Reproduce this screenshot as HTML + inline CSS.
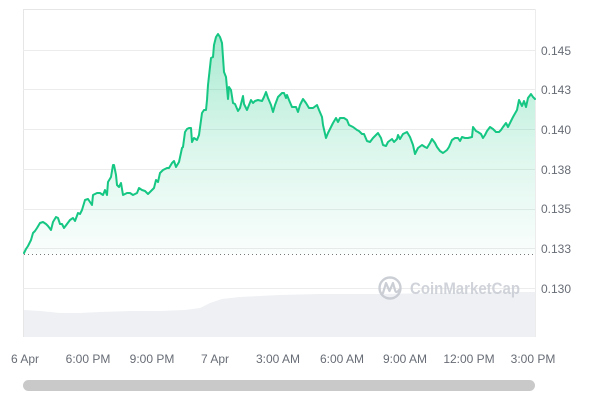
<!DOCTYPE html>
<html>
<head>
<meta charset="utf-8">
<style>
html,body{margin:0;padding:0;background:#fff;}
body{width:600px;height:400px;overflow:hidden;}
svg{display:block;}
text{font-family:"Liberation Sans",Arial,sans-serif;}
</style>
</head>
<body>
<svg width="600" height="400" viewBox="0 0 600 400" xmlns="http://www.w3.org/2000/svg">
  <defs>
    <linearGradient id="g" x1="0" y1="30" x2="0" y2="256" gradientUnits="userSpaceOnUse">
      <stop offset="0" stop-color="#16c784" stop-opacity="0.38"/>
      <stop offset="0.5" stop-color="#16c784" stop-opacity="0.16"/>
      <stop offset="1" stop-color="#16c784" stop-opacity="0.02"/>
    </linearGradient>
  </defs>

  <!-- plot border -->
  <line x1="23" y1="9.5" x2="535.5" y2="9.5" stroke="#e6e6e6" stroke-width="1"/>
  <line x1="23.5" y1="9.5" x2="23.5" y2="337" stroke="#e6e6e6" stroke-width="1"/>
  <line x1="535.5" y1="9.5" x2="535.5" y2="337" stroke="#ececec" stroke-width="1"/>

  <!-- grid -->
  <g stroke="#ececec" stroke-width="1">
    <line x1="23" y1="50.5" x2="535" y2="50.5"/>
    <line x1="23" y1="89.5" x2="535" y2="89.5"/>
    <line x1="23" y1="129.5" x2="535" y2="129.5"/>
    <line x1="23" y1="169.5" x2="535" y2="169.5"/>
    <line x1="23" y1="209.5" x2="535" y2="209.5"/>
    <line x1="23" y1="248.5" x2="535" y2="248.5"/>
    <line x1="23" y1="288.5" x2="535" y2="288.5"/>
  </g>

  <!-- volume area -->
  <path d="M24,310 L40,311 L60,313 L80,313 L100,312 L130,311 L160,311 L185,310 L200,308 L210,303 L222,299 L240,297 L260,296 L280,295 L320,294 L380,294 L440,293 L500,292 L535,292 L535,337 L24,337 Z" fill="#eef0f3"/>

  <!-- watermark -->
  <g opacity="0.85">
    <circle cx="390" cy="288" r="10.5" fill="none" stroke="#c3c7ce" stroke-width="2.4"/>
    <path d="M383,293 L386,283 L389.5,291 L393,283 L395,290 Q396,294 399,290" fill="none" stroke="#c3c7ce" stroke-width="2.2" stroke-linejoin="round" stroke-linecap="round"/>
    <text x="410" y="294" font-size="16.5" font-weight="bold" fill="#c8ccd3" textLength="110" lengthAdjust="spacingAndGlyphs">CoinMarketCap</text>
  </g>

  <!-- dotted baseline -->
  <line x1="24" y1="254.5" x2="535" y2="254.5" stroke="#777" stroke-width="1" stroke-dasharray="1,3"/>

  <!-- area fill -->
  <path id="area" fill="url(#g)" d="M24,253 L26,249 L28,246 L31,240 L33,233 L35,231 L37,228 L40,223 L43,222 L46,224 L48,226 L51,230 L53,222 L56,217 L58,218 L60,224 L62,224 L64,228 L67,224 L70,220 L73,218 L75,221 L78,213 L80,214 L82,210 L85,200 L88,199 L90,202 L92,205 L93,195 L97,193 L100,193 L103,195 L105,190 L107,195 L108,182 L111,177 L113,165 L114,165 L116,175 L117,185 L119,187 L121,183 L123,195 L127,193 L130,193 L133,195 L137,193 L139,188 L142,190 L145,191 L148,194 L151,191 L154,188 L156,180 L158,182 L160,173 L163,170 L167,168 L169,168 L172,163 L174,161 L176,167 L179,162 L182,148 L183,147 L185,132 L187,129 L189,128 L191,128 L192,142 L194,138 L197,140 L199,135 L202,113 L204,110 L206,110 L207,100 L208,85 L211,58 L213,57 L214,45 L216,37 L218,34 L220,37 L222,43 L224,72 L226,77 L228,99 L229,87 L231,90 L233,103 L235,104 L238,111 L240,108 L243,96 L244,104 L247,110 L249,105 L251,100 L253,103 L255,101 L258,100 L262,101 L264,97 L266,92 L268,98 L271,105 L273,112 L275,105 L278,97 L282,93 L284,93 L286,98 L287,95 L289,100 L292,107 L296,107 L298,112 L300,105 L303,99 L306,103 L309,108 L313,108 L317,105 L319,110 L322,117 L323,125 L326,138 L328,133 L331,127 L333,123 L336,118 L338,122 L340,118 L344,118 L347,120 L349,125 L353,127 L357,130 L359,131 L362,134 L364,134 L367,141 L370,142 L373,138 L376,135 L378,133 L381,138 L383,145 L386,146 L388,142 L392,139 L394,142 L397,139 L398,135 L400,139 L403,134 L407,132 L410,137 L413,145 L415,154 L418,148 L422,145 L425,147 L427,148 L430,143 L432,139 L435,143 L437,147 L440,151 L443,153 L447,150 L449,147 L452,140 L455,138 L458,138 L460,141 L462,137 L465,138 L468,138 L472,137 L473,127 L476,131 L478,132 L481,134 L483,138 L485,135 L487,131 L490,127 L493,129 L496,132 L499,132 L501,130 L503,127 L506,123 L508,127 L510,123 L513,117 L517,110 L519,100 L522,106 L524,101 L526,107 L528,98 L531,94 L533,97 L535,99 L535,254 L24,254 Z"/>

  <!-- price line -->
  <polyline fill="none" stroke="#16c784" stroke-width="2" stroke-linejoin="round" stroke-linecap="round" points="24,253 26,249 28,246 31,240 33,233 35,231 37,228 40,223 43,222 46,224 48,226 51,230 53,222 56,217 58,218 60,224 62,224 64,228 67,224 70,220 73,218 75,221 78,213 80,214 82,210 85,200 88,199 90,202 92,205 93,195 97,193 100,193 103,195 105,190 107,195 108,182 111,177 113,165 114,165 116,175 117,185 119,187 121,183 123,195 127,193 130,193 133,195 137,193 139,188 142,190 145,191 148,194 151,191 154,188 156,180 158,182 160,173 163,170 167,168 169,168 172,163 174,161 176,167 179,162 182,148 183,147 185,132 187,129 189,128 191,128 192,142 194,138 197,140 199,135 202,113 204,110 206,110 207,100 208,85 211,58 213,57 214,45 216,37 218,34 220,37 222,43 224,72 226,77 228,99 229,87 231,90 233,103 235,104 238,111 240,108 243,96 244,104 247,110 249,105 251,100 253,103 255,101 258,100 262,101 264,97 266,92 268,98 271,105 273,112 275,105 278,97 282,93 284,93 286,98 287,95 289,100 292,107 296,107 298,112 300,105 303,99 306,103 309,108 313,108 317,105 319,110 322,117 323,125 326,138 328,133 331,127 333,123 336,118 338,122 340,118 344,118 347,120 349,125 353,127 357,130 359,131 362,134 364,134 367,141 370,142 373,138 376,135 378,133 381,138 383,145 386,146 388,142 392,139 394,142 397,139 398,135 400,139 403,134 407,132 410,137 413,145 415,154 418,148 422,145 425,147 427,148 430,143 432,139 435,143 437,147 440,151 443,153 447,150 449,147 452,140 455,138 458,138 460,141 462,137 465,138 468,138 472,137 473,127 476,131 478,132 481,134 483,138 485,135 487,131 490,127 493,129 496,132 499,132 501,130 503,127 506,123 508,127 510,123 513,117 517,110 519,100 522,106 524,101 526,107 528,98 531,94 533,97 535,99"/>

  <!-- y labels -->
  <g font-size="12" fill="#676c75">
    <text x="541" y="55">0.145</text>
    <text x="541" y="94">0.143</text>
    <text x="541" y="134">0.140</text>
    <text x="541" y="174">0.138</text>
    <text x="541" y="213">0.135</text>
    <text x="541" y="253">0.133</text>
    <text x="541" y="293">0.130</text>
  </g>

  <!-- x labels -->
  <g font-size="12" fill="#676c75" text-anchor="middle">
    <text x="25" y="363">6 Apr</text>
    <text x="88" y="363">6:00 PM</text>
    <text x="152" y="363">9:00 PM</text>
    <text x="215" y="363">7 Apr</text>
    <text x="278" y="363">3:00 AM</text>
    <text x="342" y="363">6:00 AM</text>
    <text x="405" y="363">9:00 AM</text>
    <text x="469" y="363">12:00 PM</text>
    <text x="533" y="363">3:00 PM</text>
  </g>

  <!-- scrollbar -->
  <rect x="23" y="380" width="512" height="11" rx="5.5" ry="5.5" fill="#c9c9c9"/>
</svg>
</body>
</html>
